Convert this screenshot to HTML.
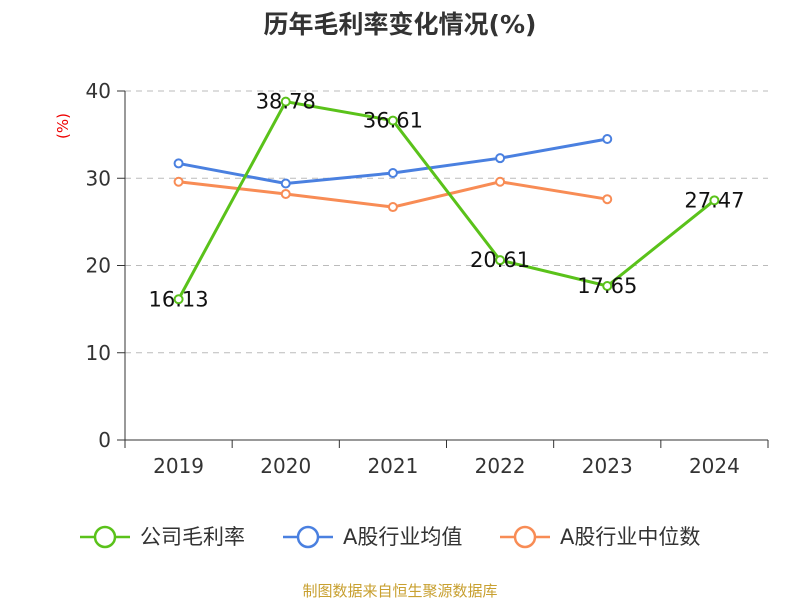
<!DOCTYPE html>
<html><head><meta charset="utf-8"><style>
body{margin:0;background:#fff;font-family:"DejaVu Sans","Noto Sans CJK SC",sans-serif;}
</style></head><body>
<svg width="800" height="600" xmlns="http://www.w3.org/2000/svg" style="font-family:'DejaVu Sans','Noto Sans CJK SC',sans-serif">
<text x="400" y="33" text-anchor="middle" font-size="25" font-weight="bold" fill="#333">历年毛利率变化情况(%)</text>
<text transform="translate(68,126) rotate(-90)" text-anchor="middle" font-size="15" fill="#e00">(%)</text>
<g id="grid"></g><g id="axes"></g><g id="series"></g>
<g id="legend"></g>
<text x="400" y="596" text-anchor="middle" font-size="15" fill="#c8a030">制图数据来自恒生聚源数据库</text>
</svg>
<script>
const categories=["2019","2020","2021","2022","2023","2024"];
const companyMargin=[16.13,38.78,36.61,20.61,17.65,27.47];
const industryAvg=[31.7,29.4,30.6,32.3,34.5,null];
const industryMedian=[29.6,28.2,26.7,29.6,27.6,null];
const yTicks=[0,10,20,30,40];
const NS="http://www.w3.org/2000/svg";
const L=125,R=768,T=91,B=440,yMax=40;
const bw=(R-L)/categories.length;
const xs=i=>L+bw*(i+0.5);
const ys=v=>B-(v/yMax)*(B-T);
function mk(tag,attrs,parent,txt){const e=document.createElementNS(NS,tag);for(const k in attrs)e.setAttribute(k,attrs[k]);if(txt!==undefined)e.textContent=txt;parent.appendChild(e);return e;}
const grid=document.getElementById('grid'),axes=document.getElementById('axes'),ser=document.getElementById('series'),leg=document.getElementById('legend');
yTicks.forEach(t=>{const y=ys(t);
 if(t>0){const g=mk('line',{x1:L,x2:R,y1:y,y2:y,stroke:'#bbb','stroke-dasharray':'6,5'},grid);}
 const tk=mk('line',{x1:L-8,x2:L,y1:y,y2:y,stroke:'#333'},axes);
 const lb=mk('text',{x:L-14,y:y+7,'text-anchor':'end','font-size':20,fill:'#333'},axes,String(t));
});
const ya=mk('line',{x1:L,x2:L,y1:T,y2:B,stroke:'#333'},axes);
const xa=mk('line',{x1:L,x2:R,y1:B,y2:B,stroke:'#333'},axes);
for(let i=0;i<=categories.length;i++){const x=L+bw*i;const t=mk('line',{x1:x,x2:x,y1:B,y2:B+8,stroke:'#333'},axes);}
categories.forEach((c,i)=>{const t=mk('text',{x:xs(i),y:B+33,'text-anchor':'middle','font-size':20,fill:'#333'},axes,c);});
function series(data,color,name,labels){
 const g=mk('g',{},ser);
 const pts=data.map((v,i)=>v==null?null:[xs(i),ys(v)]).filter(p=>p);
 const p=mk('polyline',{points:pts.map(p=>p.join(',')).join(' '),fill:'none',stroke:color,'stroke-width':3},g);
 data.forEach((v,i)=>{if(v==null)return;const c=mk('circle',{cx:xs(i),cy:ys(v),r:4,fill:'#fff',stroke:color,'stroke-width':2},g);
  if(labels){const t=mk('text',{x:xs(i),y:ys(v)+7,'text-anchor':'middle','font-size':21,fill:'#111'},g,v.toFixed(2));}});
}
series(industryAvg,'#4a80e0','industry-average');
series(industryMedian,'#f88c55','industry-median');
series(companyMargin,'#5ac21a','company-margin',true);
[["公司毛利率",'#5ac21a',80],["A股行业均值",'#4a80e0',283],["A股行业中位数",'#f88c55',500]].forEach(([n,c,x])=>{
 const g=mk('g',{},leg);
 mk('line',{x1:x,x2:x+50,y1:537,y2:537,stroke:c,'stroke-width':2.5},g);
 mk('circle',{cx:x+25,cy:537,r:10,fill:'#fff',stroke:c,'stroke-width':2.5},g);
 mk('text',{x:x+60,y:544,'font-size':21,fill:'#333'},g,n);
});
</script>
</body></html>
